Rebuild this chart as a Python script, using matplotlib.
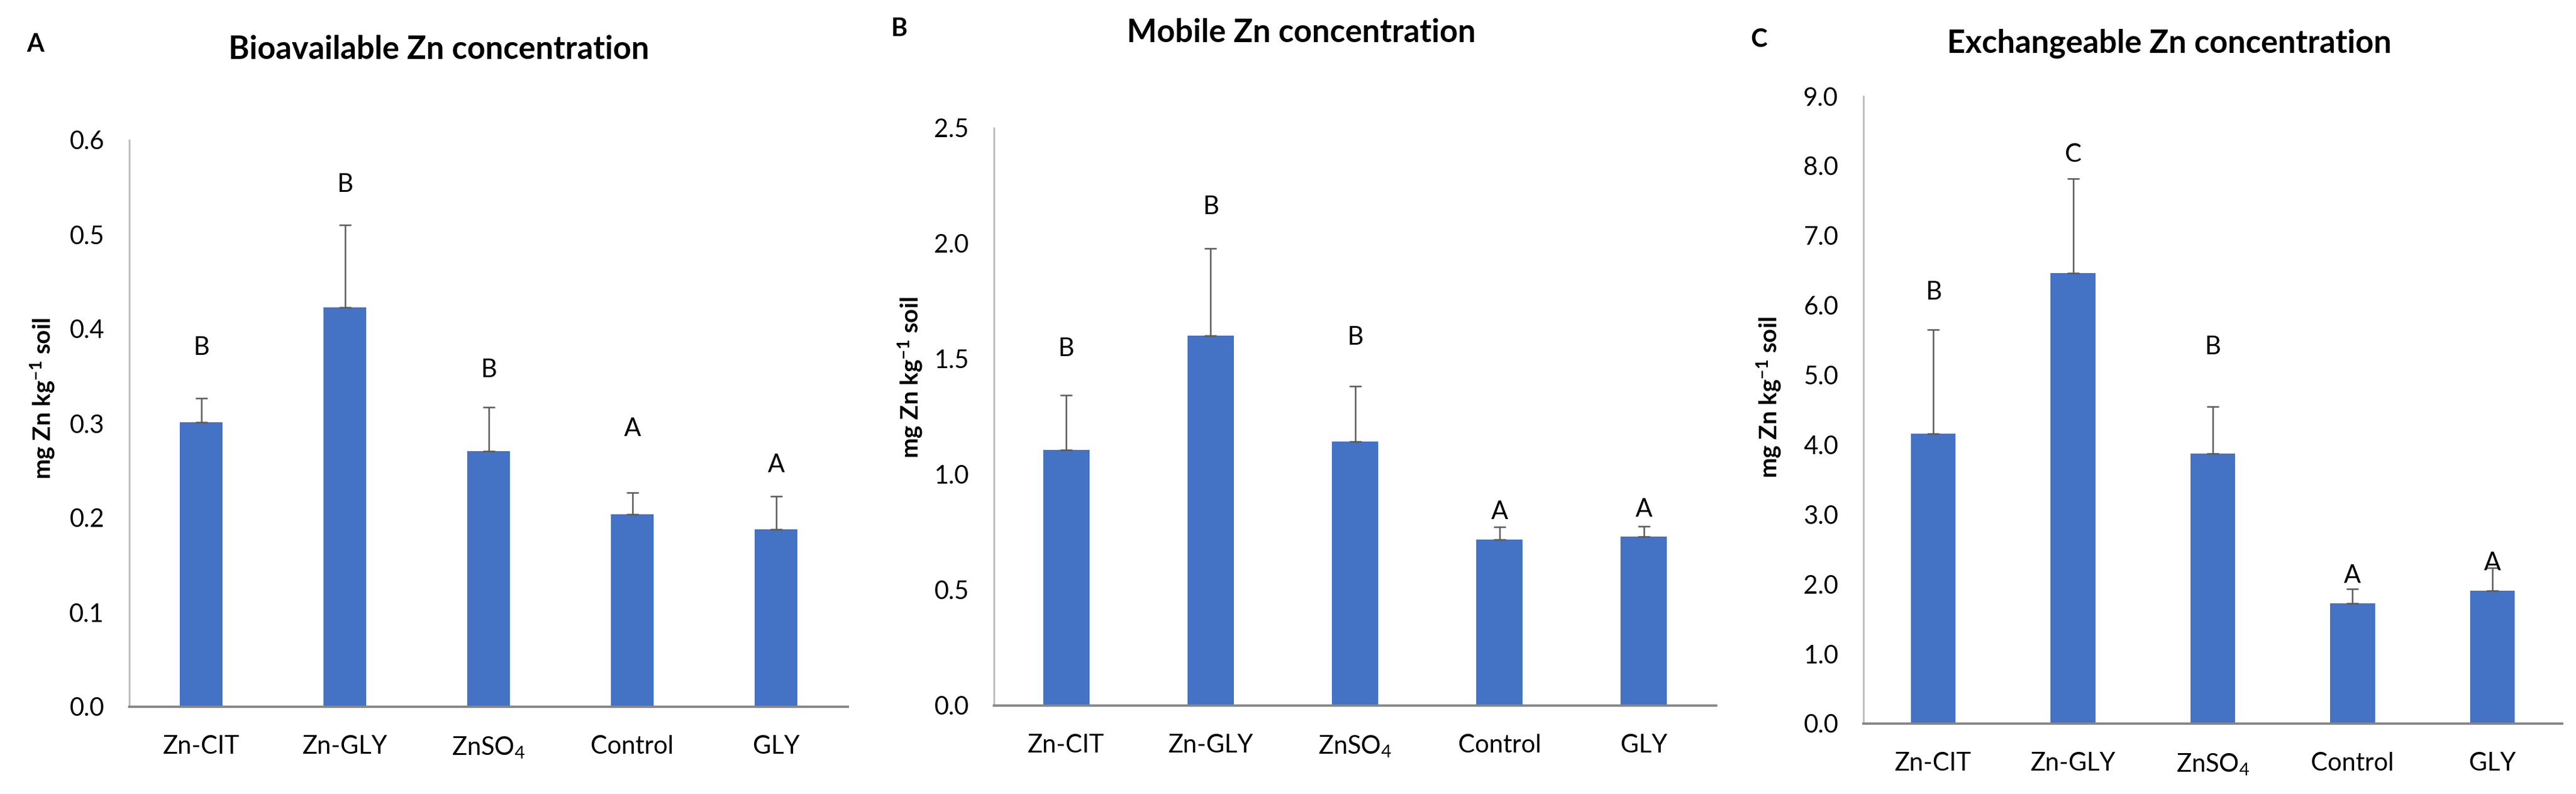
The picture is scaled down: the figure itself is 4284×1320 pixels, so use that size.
import matplotlib
matplotlib.use("Agg")
import matplotlib.pyplot as plt
import numpy as np

plt.rcParams['font.family'] = ['Lato', 'DejaVu Sans']
plt.rcParams['mathtext.fontset'] = 'custom'
plt.rcParams['mathtext.rm'] = 'Lato'
plt.rcParams['mathtext.it'] = 'Lato:italic'
plt.rcParams['mathtext.bf'] = 'Lato:bold'

categories = ['Zn-CIT', 'Zn-GLY', 'ZnSO$_4$', 'Control', 'GLY']

bio_mean = [0.301, 0.423, 0.271, 0.204, 0.188]
bio_sd = [0.026, 0.087, 0.046, 0.023, 0.035]
bio_letters = ['B', 'B', 'B', 'A', 'A']
bio_letter_y = [0.380, 0.553, 0.357, 0.294, 0.256]
bio_ticks = [0.0, 0.1, 0.2, 0.3, 0.4, 0.5, 0.6]

mob_mean = [1.106, 1.602, 1.144, 0.720, 0.731]
mob_sd = [0.239, 0.378, 0.239, 0.053, 0.046]
mob_letters = ['B', 'B', 'B', 'A', 'A']
mob_letter_y = [1.545, 2.16, 1.594, 0.838, 0.849]
mob_ticks = [0.0, 0.5, 1.0, 1.5, 2.0, 2.5]

exc_mean = [4.163, 6.463, 3.872, 1.725, 1.907]
exc_sd = [1.492, 1.354, 0.677, 0.204, 0.33]
exc_letters = ['B', 'C', 'B', 'A', 'A']
exc_letter_y = [6.186, 8.166, 5.40, 2.125, 2.307]
exc_ticks = [0.0, 1.0, 2.0, 3.0, 4.0, 5.0, 6.0, 7.0, 8.0, 9.0]

W, H = 4284, 1320
fig = plt.figure(figsize=(W / 100, H / 100), dpi=100)

BAR = '#4472C4'
panels = [
    dict(mean=bio_mean, sd=bio_sd, letters=bio_letters, ly=bio_letter_y, ticks=bio_ticks,
         fmt='{:.1f}', box=(215, 1410, 233, 1175), title='Bioavailable Zn concentration',
         tpos=(730, 82), tag='A', tagpos=(59, 74), ylab=(71, 663), bw=0.30),
    dict(mean=mob_mean, sd=mob_sd, letters=mob_letters, ly=mob_letter_y, ticks=mob_ticks,
         fmt='{:.1f}', box=(1653, 2854, 213, 1173), title='Mobile Zn concentration',
         tpos=(2164, 55), tag='B', tagpos=(1495, 48), ylab=(1514, 628), bw=0.32),
    dict(mean=exc_mean, sd=exc_sd, letters=exc_letters, ly=exc_letter_y, ticks=exc_ticks,
         fmt='{:.1f}', box=(3099, 4261, 160, 1203), title='Exchangeable Zn concentration',
         tpos=(3608, 72), tag='C', tagpos=(2925, 66), ylab=(2942, 661), bw=0.32),
]

for p in panels:
    l, r, t, b = p['box']
    ax = fig.add_axes([l / W, 1 - b / H, (r - l) / W, (b - t) / H])
    x = np.arange(len(categories))
    ax.bar(x, p['mean'], width=p['bw'], color=BAR, zorder=2)
    ax.errorbar(x, p['mean'], yerr=[np.zeros(len(x)), p['sd']], fmt='none',
                ecolor='#595959', elinewidth=1.8, capsize=7, capthick=1.8, zorder=3)
    for xi, lt, yy in zip(x, p['letters'], p['ly']):
        ax.text(xi, yy, lt, ha='center', va='center', fontsize=30, color='#000000', zorder=4)
    ax.set_xlim(-0.5, len(x) - 0.5)
    ax.set_ylim(p['ticks'][0], p['ticks'][-1])
    ax.set_yticks(p['ticks'])
    ax.set_yticklabels([p['fmt'].format(v) for v in p['ticks']])
    ax.set_xticks(x)
    ax.set_xticklabels(categories)
    ax.tick_params(axis='both', length=0, labelsize=30, colors='#000000')
    ax.tick_params(axis='x', pad=34)
    ax.tick_params(axis='y', pad=30)
    for s in ['top', 'right']:
        ax.spines[s].set_visible(False)
    ax.spines['left'].set_color('#bfbfbf')
    ax.spines['left'].set_linewidth(2.2)
    ax.spines['bottom'].set_color('#868686')
    ax.spines['bottom'].set_linewidth(2.8)
    ax.spines['bottom'].set_zorder(5)
    fig.text(p['tpos'][0] / W, 1 - p['tpos'][1] / H, p['title'], ha='center', va='center',
             fontsize=38, fontweight='bold')
    fig.text(p['tagpos'][0] / W, 1 - p['tagpos'][1] / H, p['tag'], ha='center', va='center',
             fontsize=30, fontweight='bold')
    fig.text(p['ylab'][0] / W, 1 - p['ylab'][1] / H, r'mg Zn kg$^{\mathbf{-1}}$ soil',
             ha='center', va='center', rotation=90, fontsize=29, fontweight='bold')

fig.savefig('out.png', dpi=100, facecolor='white')
